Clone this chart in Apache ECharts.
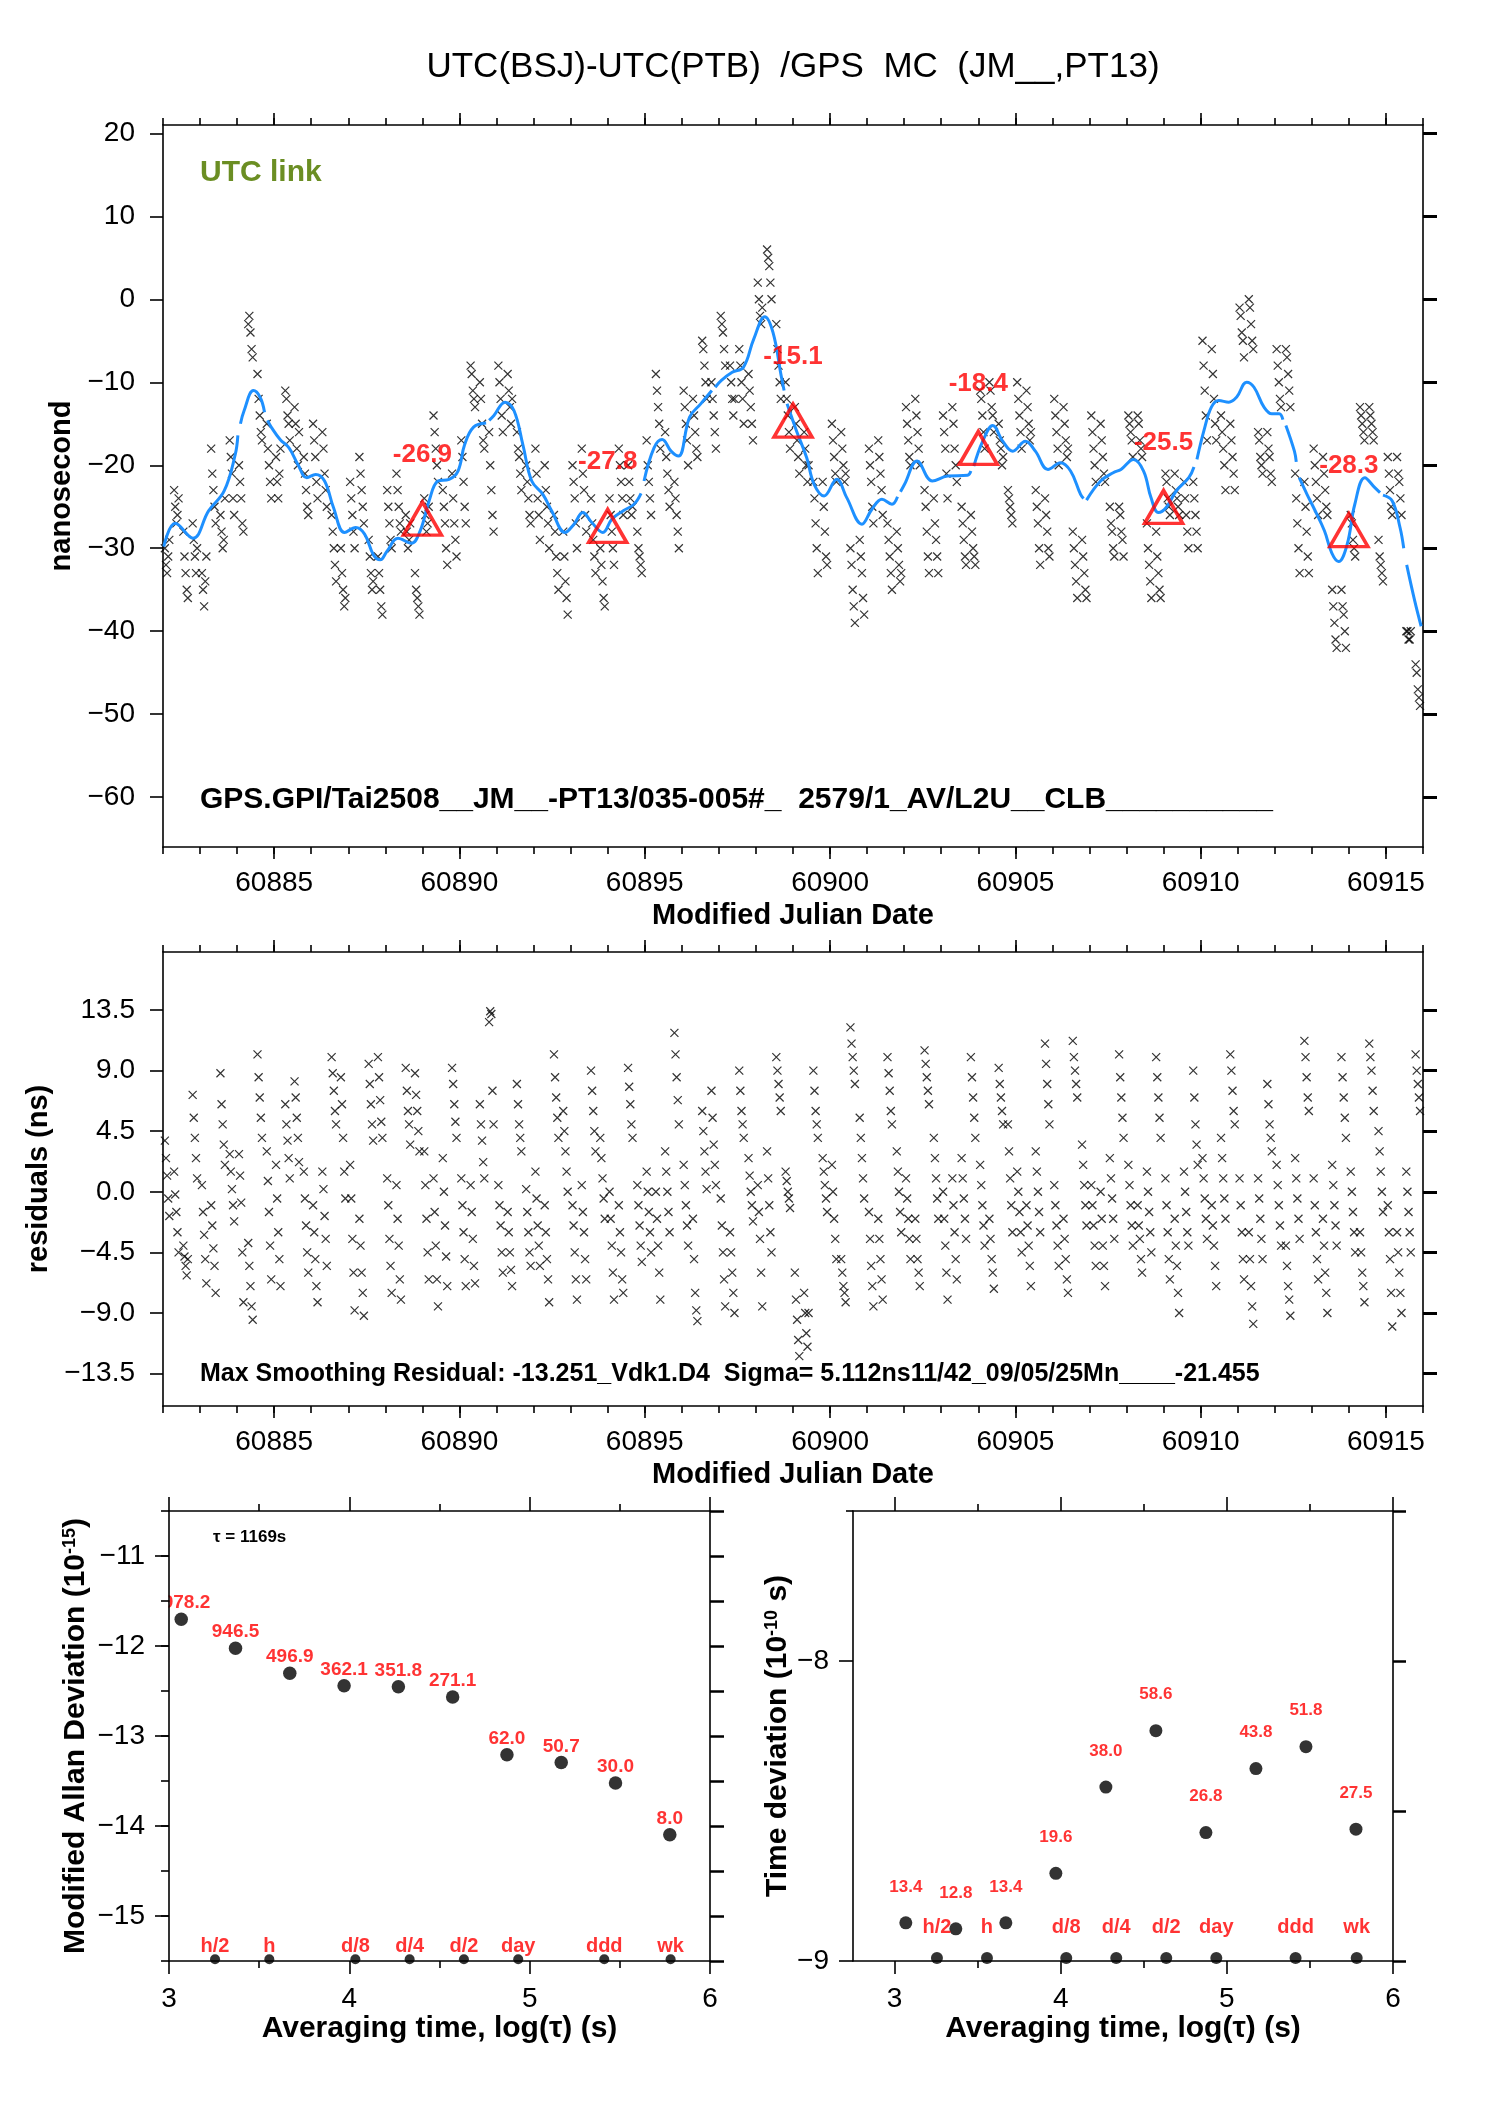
<!DOCTYPE html>
<html>
<head>
<meta charset="utf-8">
<script src="https://cdn.jsdelivr.net/npm/echarts@6/dist/echarts.min.js"></script>
<style>html,body{margin:0;padding:0;background:#fff}#c{width:1488px;height:2105px}</style>
</head>
<body>
<div id="c"></div>
<script>
// ---------------- DATA ----------------
const titleText = 'UTC(BSJ)-UTC(PTB)  /GPS  MC  (JM__,PT13)';
const linkText = 'UTC link';
const topFooter = 'GPS.GPI/Tai2508__JM__-PT13/035-005#_  2579/1_AV/L2U__CLB__________';
const resFooter = 'Max Smoothing Residual: -13.251_Vdk1.D4  Sigma= 5.112ns11/42_09/05/25Mn____-21.455';
const tauText = '\u03c4 = 1169s';

// sampling schedule of the common-view tracks (MJD)
const firstDay = 60882;
const trackOffsets = [0.05, 0.30, 0.55, 0.80];
const pointsPerTrack = 5;
const pointStep = 0.03;

// UTC(BSJ)-UTC(PTB) measurements, ns (20 per day, 4 tracks x 5)
const offsetNs = [
-30,-32,-33,-31,-29, -23,-25,-27,-26,-24, -28,-31,-33,-35,-36, -27,-29,-31,-33,-30,
-33,-35,-37,-34,-31, -18,-21,-23,-25,-27, -26,-28,-30,-29,-24, -17,-19,-21,-24,-26,
-20,-22,-24,-27,-28, -3,-2,-4,-6,-7, -9,-12,-14,-16,-17, -15,-18,-20,-22,-24,
-19,-22,-24,-21,-18, -11,-12,-14,-15,-17, -13,-15,-18,-20,-16, -19,-21,-23,-25,-26,
-15,-17,-19,-22,-24, -16,-18,-21,-23,-25, -26,-28,-30,-32,-34, -30,-33,-35,-37,-36,
-22,-24,-26,-28,-30, -19,-21,-23,-25,-27, -29,-31,-33,-35,-34, -31,-33,-35,-37,-38,
-23,-25,-27,-29,-30, -21,-23,-25,-27,-28, -26,-28,-30,-29,-27, -33,-35,-36,-37,-38,
-24,-26,-28,-27,-25, -14,-16,-18,-20,-22, -23,-25,-27,-30,-32, -21,-24,-27,-29,-31,
-17,-19,-22,-25,-27, -8,-9,-11,-12,-13, -10,-12,-15,-17,-18, -16,-20,-23,-26,-28,
-8,-10,-12,-14,-16, -9,-11,-13,-15,-12, -16,-18,-19,-21,-23, -20,-22,-24,-26,-27,
-18,-21,-24,-26,-29, -20,-23,-25,-27,-30, -26,-28,-31,-33,-35, -28,-31,-34,-36,-38,
-20,-22,-24,-27,-30, -18,-21,-23,-26,-28, -24,-27,-29,-31,-33, -30,-32,-34,-36,-37,
-24,-26,-28,-30,-32, -18,-20,-22,-24,-26, -20,-22,-24,-26,-25, -28,-30,-31,-32,-33,
-17,-20,-22,-24,-26, -9,-11,-13,-15,-18, -16,-19,-21,-23,-25, -22,-24,-26,-28,-30,
-11,-13,-15,-17,-20, -12,-14,-16,-18,-19, -5,-6,-8,-10,-12, -10,-12,-14,-16,-18,
-2,-3,-4,-6,-8, -8,-10,-12,-14,-12, -6,-8,-10,-12,-15, -9,-11,-13,-15,-17,
2,0,-2,-3,-1, 6,5,4,2,0, -3,-6,-8,-10,-12, -10,-12,-14,-16,-18,
-13,-15,-17,-19,-21, -16,-18,-20,-22,-20, -22,-24,-27,-30,-33, -22,-25,-28,-31,-32,
-15,-17,-19,-21,-22, -16,-18,-20,-22,-21, -30,-32,-35,-37,-39, -29,-31,-33,-36,-38,
-18,-20,-22,-25,-27, -17,-19,-21,-23,-26, -27,-29,-31,-33,-35, -28,-30,-32,-34,-33,
-13,-15,-17,-19,-20, -12,-14,-16,-18,-20, -23,-25,-28,-31,-33, -24,-27,-29,-31,-33,
-14,-16,-18,-21,-24, -13,-15,-18,-20,-22, -25,-27,-29,-31,-32, -26,-28,-30,-31,-32,
-11,-12,-14,-16,-18, -10,-11,-13,-14,-16, -15,-17,-18,-20,-19, -23,-24,-25,-26,-27,
-10,-12,-14,-16,-18, -11,-13,-15,-17,-16, -23,-25,-27,-30,-32, -24,-26,-28,-30,-31,
-12,-14,-16,-18,-20, -13,-15,-17,-19,-18, -28,-30,-32,-34,-36, -29,-31,-33,-35,-36,
-14,-16,-18,-20,-22, -15,-17,-19,-21,-22, -25,-27,-28,-30,-31, -25,-26,-28,-29,-31,
-14,-15,-16,-17,-19, -14,-15,-17,-18,-19, -27,-30,-32,-34,-36, -28,-31,-33,-35,-36,
-21,-22,-24,-25,-26, -21,-23,-24,-25,-26, -22,-24,-26,-28,-30, -22,-24,-26,-28,-30,
-5,-8,-11,-14,-17, -6,-9,-12,-15,-17, -14,-16,-18,-20,-23, -15,-17,-19,-21,-23,
-1,-2,-4,-5,-7, 0,-1,-3,-5,-6, -16,-17,-19,-20,-21, -16,-18,-19,-21,-22,
-6,-8,-10,-12,-13, -6,-7,-9,-11,-13, -21,-24,-27,-30,-33, -22,-25,-28,-31,-33,
-18,-20,-22,-24,-26, -19,-21,-23,-25,-26, -35,-37,-39,-41,-42, -35,-37,-38,-40,-42,
-26,-27,-29,-30,-31, -13,-14,-15,-16,-17, -13,-14,-15,-16,-17, -29,-31,-32,-33,-34,
-19,-21,-23,-25,-26, -19,-21,-22,-24,-26, -40,-40,-41,-41,-40, -44,-45,-47,-48,-49
];

// residuals from the smoothing, ns (same schedule)
const residualNs = [
3.8,2.5,1.2,-0.5,-1.8, 1.5,-0.2,-1.5,-3.0,-4.5, -4.0,-4.8,-5.5,-6.2,-5.0, 7.2,5.5,4.0,2.5,1.0,
0.5,-1.5,-3.2,-5.0,-6.8, -1.0,-2.5,-4.2,-5.5,-7.5, 8.8,6.5,5.0,3.5,2.0, 2.8,1.5,0.2,-1.0,-2.2,
2.8,1.2,-0.8,-4.5,-8.2, -3.8,-5.5,-7.0,-8.5,-9.5, 10.2,8.5,7.0,5.5,4.0, 3.0,0.8,-1.5,-4.0,-6.5,
2.0,-0.5,-3.0,-5.0,-7.0, 6.5,5.0,3.8,2.5,1.0, 8.2,7.0,5.5,4.0,2.2, 1.5,-0.5,-2.5,-4.5,-6.0,
-1.0,-3.0,-5.0,-7.0,-8.2, 1.5,0.2,-1.8,-3.5,-5.5, 10.0,8.8,7.5,6.0,5.0, 8.5,6.5,4.0,1.5,-0.5,
2.0,-0.5,-3.5,-6.0,-8.8, -2.0,-4.0,-6.0,-7.5,-9.2, 9.5,8.0,6.5,5.0,3.8, 10.0,8.5,6.8,5.2,4.0,
1.0,-1.0,-3.5,-5.5,-7.5, 0.5,-2.0,-4.0,-6.5,-8.0, 9.2,7.5,6.0,5.0,3.5, 8.8,7.2,6.0,4.5,3.0,
3.0,0.5,-2.0,-4.5,-6.5, 1.0,-1.5,-4.0,-6.5,-8.5, 2.5,0.0,-2.5,-4.8,-7.0, 9.2,8.0,6.5,5.2,4.0,
1.0,-1.0,-3.0,-5.0,-7.0, 0.5,-1.5,-3.5,-5.5,-6.8, 6.5,5.0,3.8,2.2,1.0, 12.6,13.4,13.2,7.5,5.0,
0.5,-1.0,-2.5,-4.5,-6.0, -1.5,-3.0,-4.5,-5.8,-7.0, 8.0,6.5,5.0,4.0,3.0, 0.2,-1.5,-3.0,-4.5,-5.5,
1.5,-0.5,-2.5,-4.0,-5.5, -1.0,-3.0,-5.0,-6.5,-8.2, 10.2,8.5,7.0,5.5,4.0, 6.0,4.5,3.0,1.5,0.0,
-1.0,-2.5,-4.5,-6.5,-8.0, 0.5,-1.5,-3.0,-5.0,-6.5, 9.0,7.5,6.0,4.5,3.0, 4.0,2.5,1.0,-0.5,-2.0,
0.0,-2.0,-4.0,-6.0,-8.0, -1.0,-3.0,-4.5,-6.5,-7.5, 9.2,7.8,6.5,5.0,4.0, 0.5,-1.0,-2.5,-4.0,-5.2,
1.5,0.0,-1.5,-3.0,-4.5, 0.0,-2.0,-4.0,-6.0,-8.0, 3.0,1.5,0.0,-1.5,-3.0, 11.8,10.2,8.5,6.8,5.0,
2.0,0.5,-1.0,-2.5,-4.0, -2.0,-5.0,-7.5,-8.8,-9.6, 6.0,4.5,3.0,1.5,0.2, 7.5,5.5,3.5,2.0,0.5,
-0.5,-2.5,-4.5,-6.5,-8.5, -3.0,-4.5,-6.0,-7.5,-9.0, 9.0,7.5,6.0,5.0,4.0, 2.5,1.2,0.0,-1.0,-2.2,
0.5,-1.5,-3.5,-6.0,-8.5, 3.0,1.0,-1.0,-3.0,-4.5, 10.0,9.0,8.0,7.0,6.0, 1.5,0.8,0.0,-0.5,-1.2,
-6.0,-8.0,-9.5,-11.0,-12.2, -7.5,-9.0,-10.5,-11.5,-9.0, 9.0,7.5,6.0,5.0,4.0, 2.5,1.5,0.5,-0.5,-1.5,
2.0,0.0,-2.0,-3.5,-5.0, -5.0,-6.0,-7.0,-7.5,-8.2, 12.2,11.0,10.0,9.0,8.0, 5.5,4.0,2.5,1.0,-0.5,
-1.5,-3.5,-5.5,-7.0,-8.5, -2.0,-3.5,-5.0,-6.5,-8.0, 10.0,8.8,7.5,6.0,5.0, 3.0,1.5,0.0,-1.5,-3.0,
1.0,-0.5,-2.0,-3.5,-5.0, -2.0,-3.5,-5.0,-6.0,-7.0, 10.5,9.5,8.5,7.5,6.5, 4.0,2.5,1.0,-0.5,-2.0,
0.0,-2.0,-4.0,-6.0,-8.0, 1.0,-1.0,-3.0,-5.0,-6.5, 2.5,1.0,-0.5,-2.0,-3.5, 10.0,8.5,7.0,5.5,4.0,
2.0,0.5,-1.0,-2.5,-4.0, -2.0,-3.5,-5.0,-6.0,-7.2, 9.2,8.0,7.0,6.0,5.0, 5.0,3.0,1.0,-1.0,-3.0,
1.5,0.0,-1.5,-3.0,-4.5, -1.0,-2.5,-4.0,-5.5,-7.0, 3.0,1.5,0.0,-1.5,-3.0, 11.0,9.5,8.0,6.5,5.0,
0.5,-1.0,-2.5,-4.0,-5.5, -2.0,-3.5,-5.0,-6.5,-7.5, 11.2,10.0,9.0,8.0,7.0, 3.5,2.0,0.5,-1.0,-2.5,
0.5,-1.0,-2.5,-4.0,-5.5, 0.0,-2.0,-4.0,-5.5,-7.0, 2.5,1.0,-0.5,-2.0,-3.5, 10.2,8.5,7.0,5.5,4.0,
2.0,0.5,-1.0,-2.5,-4.0, -1.0,-2.5,-3.5,-5.0,-6.0, 1.5,0.0,-1.5,-3.0,-4.5, 10.0,8.5,7.0,5.5,4.0,
1.0,-1.0,-3.0,-5.0,-6.5, -2.0,-4.0,-5.5,-7.5,-9.0, 1.5,0.0,-1.5,-3.0,-4.0, 9.0,7.0,5.0,3.5,2.0,
2.5,1.0,-0.5,-2.0,-3.5, -1.0,-2.5,-4.0,-5.5,-7.0, 4.0,2.5,1.0,-0.5,-2.0, 10.2,9.0,7.5,6.0,5.0,
1.0,-1.0,-3.0,-5.0,-6.5, -3.0,-5.0,-7.0,-8.5,-9.8, 1.0,-0.5,-2.0,-3.5,-5.0, 8.0,6.5,5.0,4.0,3.0,
2.0,0.5,-1.0,-2.5,-4.0, -4.0,-5.5,-7.0,-8.0,-9.2, 2.5,1.0,-0.5,-2.0,-3.5, 11.2,10.0,8.5,7.0,6.0,
1.0,-1.0,-3.0,-5.0,-6.5, -2.0,-4.0,-6.0,-7.5,-9.0, 2.0,0.5,-1.0,-2.5,-4.0, 10.0,8.5,7.0,5.5,4.0,
1.5,0.0,-1.5,-3.0,-4.5, -3.0,-4.5,-6.0,-7.0,-8.2, 11.0,10.0,9.0,7.5,6.0, 4.5,3.0,1.5,0.0,-1.5,
-1.0,-3.0,-5.0,-7.5,-10.0, -3.0,-4.5,-6.0,-7.5,-9.0, 1.5,0.0,-1.5,-3.0,-4.5, 10.2,9.0,8.0,7.0,6.0
];

// smoothed curve (MJD, ns); null marks a break in the curve
const smoothMjd = [60882.02,60882.33,60882.81,60883.23,60883.65,60883.95,60884.02,60884.055,60884.09,60884.19,60884.44,60884.62,60884.74,60884.78,60884.82,60884.92,60885.16,60885.40,60885.64,60885.88,60886.12,60886.36,60886.60,60886.90,60887.20,60887.44,60887.68,60887.86,60888.04,60888.34,60888.70,60888.94,60889.18,60889.42,60889.72,60889.96,60890.14,60890.38,60890.72,60890.76,60890.80,60890.93,60891.23,60891.47,60891.71,60891.95,60892.25,60892.49,60892.85,60893.09,60893.33,60893.57,60893.87,60894.11,60894.41,60894.71,60894.90,60894.94,60894.98,60895.25,60895.47,60895.71,60895.91,60896.21,60896.51,60896.81,60896.85,60896.90,60897.06,60897.36,60897.66,60897.94,60898.24,60898.46,60898.68,60898.76,60898.80,60898.84,60899.09,60899.37,60899.57,60899.84,60900.18,60900.45,60900.86,60901.13,60901.40,60901.67,60901.82,60901.86,60901.90,60902.01,60902.35,60902.76,60903.17,60903.71,60903.80,60903.84,60903.88,60904.12,60904.39,60904.66,60904.93,60905.27,60905.54,60905.88,60906.22,60906.49,60906.76,60906.84,60906.88,60906.92,60907.30,60907.64,60907.85,60908.19,60908.46,60908.66,60908.86,60909.07,60909.34,60909.68,60909.82,60909.86,60909.90,60910.09,60910.29,60910.49,60910.76,60910.97,60911.24,60911.44,60911.71,60911.92,60912.12,60912.22,60912.26,60912.30,60912.53,60912.58,60912.62,60912.66,60912.87,60913.07,60913.34,60913.54,60913.72,60913.95,60914.16,60914.43,60914.70,60914.84,60914.88,60914.92,60915.17,60915.38,60915.48,60915.52,60915.56,60915.78,60915.95];
const smoothNs = [-29.8,-27.0,-28.8,-25.5,-23.1,-18.7,-16.4,null,-15.0,-13.4,-11.0,-11.8,-13.6,null,-14.6,-15.4,-16.9,-17.9,-19.9,-21.5,-21.1,-21.9,-25.1,-28.1,-27.5,-28.3,-30.8,-31.4,-30.4,-28.8,-29.4,-27.9,-24.3,-21.9,-21.7,-20.7,-17.5,-15.4,-14.9,null,-14.6,-14.0,-12.4,-13.4,-17.5,-21.9,-23.5,-25.5,-28.1,-27.1,-25.7,-26.9,-28.1,-26.5,-25.5,-24.7,-23.4,null,-21.9,-17.9,-16.9,-18.3,-18.9,-14.2,-12.6,-11.0,null,-10.6,-9.8,-8.8,-8.2,-4.8,-2.1,-4.0,-9.2,-11.0,null,-12.6,-15.8,-19.1,-22.3,-23.7,-21.7,-23.9,-27.1,-25.3,-24.1,-24.7,-23.8,null,-23.2,-22.3,-19.5,-21.9,-21.3,-21.2,-20.7,null,-20.1,-17.1,-15.2,-17.1,-18.3,-17.1,-18.3,-20.5,-19.7,-20.7,-23.5,-24.0,null,-24.2,-21.9,-20.9,-20.5,-19.3,-20.7,-23.9,-25.7,-25.1,-23.1,-21.5,-20.2,null,-19.3,-15.8,-13.0,-12.2,-12.4,-11.8,-10.0,-10.6,-13.0,-13.8,-13.8,-14.5,null,-15.2,-18.3,-19.6,null,-21.5,-23.5,-25.3,-27.9,-30.6,-31.6,-29.6,-24.7,-21.5,-22.7,-23.3,null,-23.6,-24.3,-27.5,-30.0,null,-32.0,-36.4,-39.4];

// daily reference points
const dailyMjd = [60889, 60894, 60899, 60904, 60909, 60914];
const dailyNs = [-26.9, -27.8, -15.1, -18.4, -25.5, -28.3];

// axes ticks
const mjdMajor = [60885, 60890, 60895, 60900, 60905, 60910, 60915];
const nsTicks = [-60, -50, -40, -30, -20, -10, 0, 10, 20];
const resTicks = [-13.5, -9, -4.5, 0, 4.5, 9, 13.5];

// stability analysis
const tauSec = [1169, 2338, 4676, 9352, 18704, 37408, 74816, 149632, 299264, 598528];
const modAdev = [1978.2, 946.5, 496.9, 362.1, 351.8, 271.1, 62.0, 50.7, 30.0, 8.0];   // 1e-15
const tdev = [13.4, 12.8, 13.4, 19.6, 38.0, 58.6, 26.8, 43.8, 51.8, 27.5];           // 1e-10 s
const markNames = ['h/2', 'h', 'd/8', 'd/4', 'd/2', 'day', 'ddd', 'wk'];
const markSec = [1800, 3600, 10800, 21600, 43200, 86400, 259200, 604800];
const logTauTicks = [3, 4, 5, 6];
const logTauMinor = [3.5, 4.5, 5.5];
const adevTicks = [-15, -14, -13, -12, -11];
const adevHalf = [-15.5, -15, -14.5, -14, -13.5, -13, -12.5, -12, -11.5, -11, -10.5];
const tdevTicks = [-9, -8];
const tdevHalf = [-9, -8.5, -8, -7.5];

// ---------------- CHART ----------------
const FONT = "'Liberation Sans', Arial, Helvetica, sans-serif";
const BLACK = '#000';
const RED = '#ff0000';

const G = {
  top: {left: 163, top: 125, width: 1260, height: 722},
  res: {left: 163, top: 952, width: 1260, height: 454},
  adev: {left: 169, top: 1511, width: 541, height: 450},
  tdev: {left: 853, top: 1511, width: 540, height: 450}
};
const R = {
  mjd: [60882, 60916], ns: [-66, 21], res: [-15.9, 17.8],
  adevX: [3, 6], adevY: [-15.5, -10.5], tdevX: [2.75, 6], tdevY: [-9, -7.5]
};

const mjdMinor = [];
for (let d = R.mjd[0]; d <= R.mjd[1]; d++) mjdMinor.push(d);

function schedTime(i) {
  const perDay = trackOffsets.length * pointsPerTrack;
  const day = Math.floor(i / perDay);
  const slot = Math.floor((i % perDay) / pointsPerTrack);
  const k = i % pointsPerTrack;
  return firstDay + day + trackOffsets[slot] + k * pointStep;
}
const minus = v => (v < 0 ? '\u2212' + Math.abs(v) : String(v));
const minus1 = v => (v < 0 ? '\u2212' + Math.abs(v).toFixed(1) : v.toFixed(1));

function ax(gridIndex, position, range, opts) {
  opts = opts || {};
  const a = {
    gridIndex, position, type: 'value', min: range[0], max: range[1], z: opts.z || 0,
    axisLine: {show: opts.line !== false, onZero: false, lineStyle: {color: BLACK, width: 1.6}},
    splitLine: {show: false},
    axisTick: opts.ticks ? {show: true, inside: false, customValues: opts.ticks, length: opts.len || 12,
      lineStyle: {color: BLACK, width: opts.tw || 1.6}} : {show: false},
    axisLabel: opts.labels ? {show: true, customValues: opts.labels, formatter: opts.fmt || minus,
      margin: opts.margin || 14, color: BLACK, fontSize: 28, fontFamily: FONT} : {show: false}
  };
  if (opts.name) {
    a.name = opts.name; a.nameLocation = 'middle'; a.nameGap = opts.nameGap;
    a.nameTextStyle = {color: BLACK, fontSize: opts.nameSize || 29, fontWeight: 'bold', fontFamily: FONT,
      rich: {sup: {fontSize: 18, fontWeight: 'bold', fontFamily: FONT, color: BLACK, verticalAlign: 'top'},
             n: {fontSize: opts.nameSize || 29, fontWeight: 'bold', fontFamily: FONT, color: BLACK}}};
  }
  return a;
}

const grids = [G.top, G.res, G.adev, G.tdev].map(g => Object.assign({containLabel: false, outerBoundsMode: 'none'}, g));

const xAxes = [
  // 0-3 top panel
  ax(0, 'bottom', R.mjd, {ticks: mjdMajor, labels: mjdMajor, len: 12, margin: 22, fmt: v => String(v),
    name: 'Modified Julian Date', nameGap: 54}),
  ax(0, 'bottom', R.mjd, {ticks: mjdMinor, len: 7, line: false}),
  ax(0, 'top', R.mjd, {ticks: mjdMajor, len: 12}),
  ax(0, 'top', R.mjd, {ticks: mjdMinor, len: 7, line: false}),
  // 4-7 residual panel
  ax(1, 'bottom', R.mjd, {ticks: mjdMajor, labels: mjdMajor, len: 12, margin: 22, fmt: v => String(v),
    name: 'Modified Julian Date', nameGap: 54}),
  ax(1, 'bottom', R.mjd, {ticks: mjdMinor, len: 7, line: false}),
  ax(1, 'top', R.mjd, {ticks: mjdMajor, len: 12}),
  ax(1, 'top', R.mjd, {ticks: mjdMinor, len: 7, line: false}),
  // 8-11 Allan panel
  ax(2, 'bottom', R.adevX, {ticks: logTauTicks, labels: logTauTicks, len: 13, margin: 24, fmt: v => String(v),
    name: 'Averaging time, log(\u03c4) (s)', nameGap: 53, nameSize: 30}),
  ax(2, 'bottom', R.adevX, {ticks: logTauMinor, len: 7, line: false}),
  ax(2, 'top', R.adevX, {ticks: logTauTicks, len: 14}),
  ax(2, 'top', R.adevX, {ticks: logTauMinor, len: 7, line: false}),
  // 12-15 TDEV panel
  ax(3, 'bottom', R.tdevX, {ticks: logTauTicks, labels: logTauTicks, len: 13, margin: 24, fmt: v => String(v),
    name: 'Averaging time, log(\u03c4) (s)', nameGap: 53, nameSize: 30}),
  ax(3, 'bottom', R.tdevX, {ticks: logTauMinor, len: 7, line: false}),
  ax(3, 'top', R.tdevX, {ticks: logTauTicks, len: 14}),
  ax(3, 'top', R.tdevX, {ticks: logTauMinor, len: 7, line: false})
];

const yAxes = [
  // 0-1 top panel
  ax(0, 'left', R.ns, {ticks: nsTicks, labels: nsTicks, len: 13, margin: 28, name: 'nanosecond', nameGap: 82}),
  ax(0, 'right', R.ns, {ticks: nsTicks, len: 14, tw: 3}),
  // 2-3 residual
  ax(1, 'left', R.res, {ticks: resTicks, labels: resTicks, len: 13, margin: 28, fmt: minus1,
    name: 'residuals (ns)', nameGap: 103}),
  ax(1, 'right', R.res, {ticks: resTicks, len: 14, tw: 3}),
  // 4-6 Allan
  ax(2, 'left', R.adevY, {ticks: adevTicks, labels: adevTicks, len: 14, margin: 24, z: 10,
    name: '{n|Modified Allan Deviation (10}{sup|-15}{n|)}', nameGap: 78, nameSize: 30}),
  ax(2, 'left', R.adevY, {ticks: adevHalf, len: 8, line: false, z: 10}),
  ax(2, 'right', R.adevY, {ticks: adevHalf, len: 14, tw: 2.5}),
  // 7-9 TDEV
  ax(3, 'left', R.tdevY, {ticks: tdevTicks, labels: tdevTicks, len: 14, margin: 24,
    name: '{n|Time deviation (10}{sup|-10}{n| s)}', nameGap: 60, nameSize: 30}),
  ax(3, 'left', R.tdevY, {ticks: [-7.5], len: 7, line: false}),
  ax(3, 'right', R.tdevY, {ticks: tdevHalf, len: 13, tw: 2.5})
];

const crossSymbol = 'path://M0,0L10,10M10,0L0,10';
const crossStyle = {color: 'rgba(0,0,0,0)', borderColor: BLACK, borderWidth: 1.2};

const series = [
  {
    type: 'scatter', xAxisIndex: 0, yAxisIndex: 0, symbol: crossSymbol, symbolSize: 8,
    itemStyle: crossStyle, data: offsetNs.map((v, i) => [schedTime(i), v]), silent: true, z: 2
  },
  {
    type: 'line', xAxisIndex: 0, yAxisIndex: 0, smooth: 0.4, showSymbol: false, connectNulls: false,
    lineStyle: {color: '#1e90ff', width: 3}, data: smoothMjd.map((t, i) => [t, smoothNs[i] === null ? '-' : smoothNs[i]]),
    silent: true, z: 3
  },
  {
    type: 'scatter', xAxisIndex: 0, yAxisIndex: 0, symbol: 'triangle', symbolSize: [38, 33], symbolOffset: [0, -4],
    itemStyle: {color: 'rgba(0,0,0,0)', borderColor: RED, borderWidth: 3.5},
    label: {show: true, position: 'inside', offset: [0, -64], color: RED, fontSize: 26, fontWeight: 'bold',
      fontFamily: FONT, formatter: p => p.value[1].toFixed(1)},
    data: dailyMjd.map((t, i) => [t, dailyNs[i]]), silent: true, z: 4
  },
  {
    type: 'scatter', xAxisIndex: 4, yAxisIndex: 2, symbol: crossSymbol, symbolSize: 8,
    itemStyle: crossStyle, data: residualNs.map((v, i) => [schedTime(i), v]), silent: true, z: 2
  },
  // Allan deviation
  {
    type: 'scatter', xAxisIndex: 8, yAxisIndex: 4, symbol: 'circle', symbolSize: 13.5, clip: false,
    itemStyle: {color: BLACK},
    label: {show: true, position: 'top', distance: 0, color: RED, fontSize: 19, fontWeight: 'bold', fontFamily: FONT,
      formatter: p => p.value[2].toFixed(1)},
    data: tauSec.map((t, i) => [Math.log10(t), Math.log10(modAdev[i] * 1e-15), modAdev[i]]), silent: true, z: 2
  },
  {
    type: 'scatter', xAxisIndex: 8, yAxisIndex: 4, symbol: 'circle', symbolSize: 10, clip: true,
    itemStyle: {color: BLACK},
    label: {show: true, position: 'top', distance: -2, color: RED, fontSize: 20, fontWeight: 'bold', fontFamily: FONT,
      formatter: p => p.value[2]},
    data: markSec.map((s, i) => [Math.log10(s), R.adevY[0] + 0.02, markNames[i]]), silent: true, z: 2
  },
  // Time deviation
  {
    type: 'scatter', xAxisIndex: 12, yAxisIndex: 7, symbol: 'circle', symbolSize: 13, clip: false,
    itemStyle: {color: BLACK},
    label: {show: true, position: 'top', distance: 21, color: RED, fontSize: 17, fontWeight: 'bold', fontFamily: FONT,
      formatter: p => p.value[2].toFixed(1)},
    data: tauSec.map((t, i) => [Math.log10(t), Math.log10(tdev[i] * 1e-10), tdev[i]]), silent: true, z: 2
  },
  {
    type: 'scatter', xAxisIndex: 12, yAxisIndex: 7, symbol: 'circle', symbolSize: 12, clip: true,
    itemStyle: {color: BLACK},
    label: {show: true, position: 'top', distance: 15, color: RED, fontSize: 20, fontWeight: 'bold', fontFamily: FONT,
      formatter: p => p.value[2]},
    data: markSec.map((s, i) => [Math.log10(s), R.tdevY[0] + 0.01, markNames[i]]), silent: true, z: 2
  }
];

function txt(x, y, text, font, fill, align) {
  return {type: 'text', x, y, z: 20, silent: true,
    style: {text, font, fill: fill || BLACK, textAlign: align || 'left', textVerticalAlign: 'middle',
            align: align || 'left', verticalAlign: 'middle'}};
}

const option = {
  animation: false,
  backgroundColor: '#fff',
  grid: grids,
  xAxis: xAxes,
  yAxis: yAxes,
  series,
  graphic: [
    txt(793, 67, titleText, "35px " + FONT, BLACK, 'center'),
    txt(200, 173, linkText, "bold 30px " + FONT, '#6b8e23'),
    txt(200, 800, topFooter, "bold 30px " + FONT),
    txt(200, 1374, resFooter, "bold 25px " + FONT),
    txt(213, 1537, tauText, "bold 17px " + FONT),
    // hides the part of the first Allan label that lies outside the plot frame
    {type: 'rect', z: 5, silent: true, shape: {x: 96, y: 1586, width: 72.5, height: 34}, style: {fill: '#fff'}}
  ]
};

const chart = echarts.init(document.getElementById('c'), null, {width: 1488, height: 2105});
chart.setOption(option);
</script>
</body>
</html>
